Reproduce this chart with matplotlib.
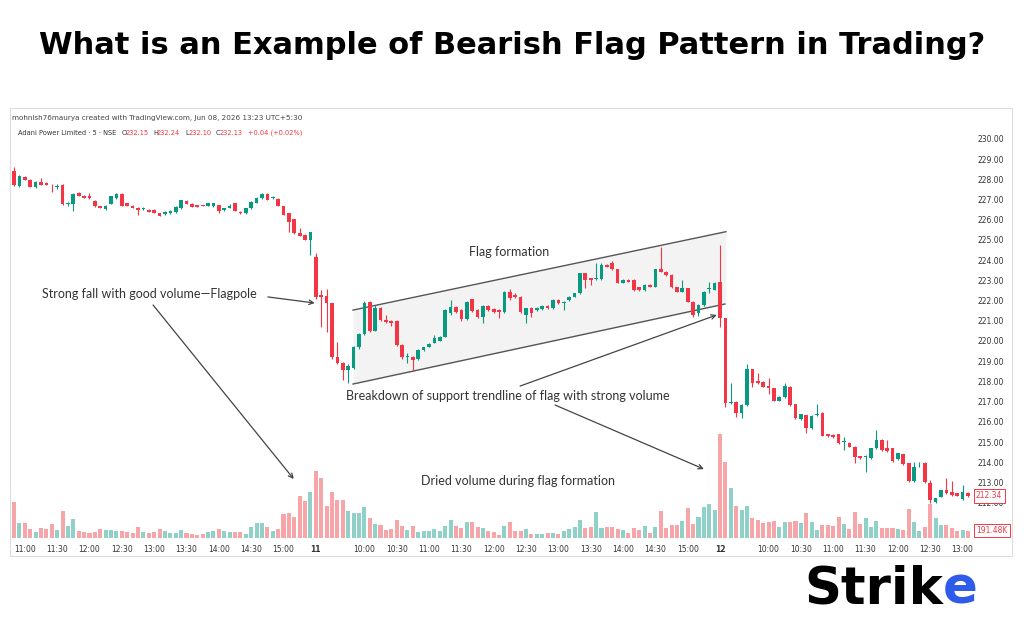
import numpy as np
import pandas as pd
import matplotlib.pyplot as plt
from matplotlib.patches import Rectangle
from matplotlib.transforms import blended_transform_factory

# ---- candle data (5 min bars, three sessions) ----
opens = [
    # day 1 (10:50 - 15:25)
    228.40, 227.67, 228.14, 227.97, 227.61, 227.86, 227.81, 227.74, 227.62, 227.72,
    226.80, 226.78, 227.31, 227.19, 227.19, 226.93, 226.68, 226.52, 226.80, 227.06,
    227.28, 226.82, 226.70, 226.60, 226.55, 226.49, 226.49, 226.32, 226.27, 226.32,
    226.37, 226.57, 226.95, 226.80, 226.73, 226.71, 226.68, 226.67, 226.73, 226.49,
    226.60, 226.83, 226.40, 226.32, 226.57, 226.85, 227.06, 227.28, 227.06, 227.03,
    226.68, 226.32, 226.02, 225.36, 225.25, 225.00,
    # day 2
    224.17, 222.30, 222.23, 221.86, 219.19, 218.89, 218.56, 218.65, 219.69, 220.33,
    221.95, 220.51, 221.62, 221.04, 221.00, 220.99, 219.80, 219.20, 219.20, 219.09,
    219.55, 219.72, 219.92, 220.02, 220.21, 221.37, 221.70, 221.53, 221.09, 222.06,
    221.53, 221.17, 221.73, 221.57, 221.53, 221.45, 222.41, 222.30, 222.20, 221.29,
    221.62, 221.53, 221.58, 221.73, 221.62, 222.03, 221.86, 222.03, 222.20, 222.36,
    223.35, 223.10, 223.05, 223.05, 223.76, 223.85, 223.55, 222.89, 223.02, 223.02,
    222.66, 222.52, 222.77, 222.69, 223.55, 223.43, 223.27, 222.66, 222.44, 222.61,
    221.95, 221.37, 221.78, 222.58, 222.52,
    # day 3
    222.94, 221.12, 216.92, 217.00, 216.45, 216.83, 218.60, 218.00, 217.99, 217.77,
    217.65, 217.05, 217.24, 217.74, 216.88, 216.13, 216.33, 215.68, 216.35, 216.45,
    215.38, 215.35, 215.38, 215.00, 214.97, 214.77, 214.30, 214.25, 214.19, 214.69,
    215.10, 214.70, 214.69, 214.14, 214.39, 213.94, 213.07, 213.94, 213.98, 212.95,
    212.05, 212.29, 212.65, 212.54, 212.46, 212.20, 212.50,
]
highs = [
    228.60, 228.22, 228.17, 228.00, 227.90, 228.09, 227.86, 227.76, 227.76, 227.76,
    226.90, 227.30, 227.39, 227.22, 227.31, 227.00, 226.70, 226.73, 227.20, 227.31,
    227.31, 226.85, 226.73, 226.62, 226.65, 226.52, 226.52, 226.35, 226.42, 226.47,
    226.68, 227.00, 226.98, 226.83, 226.75, 226.73, 226.85, 226.85, 226.75, 226.60,
    226.80, 226.85, 226.42, 226.60, 226.92, 227.12, 227.31, 227.31, 227.16, 227.06,
    226.70, 226.35, 226.05, 225.58, 225.28, 225.41,
    224.34, 222.50, 222.56, 221.90, 219.97, 218.95, 218.85, 219.75, 220.40, 222.00,
    222.00, 221.78, 221.70, 221.29, 221.05, 221.05, 219.85, 219.39, 219.25, 219.58,
    219.72, 219.90, 220.30, 220.25, 221.56, 222.03, 221.75, 221.57, 222.00, 222.10,
    221.57, 221.78, 221.78, 221.62, 221.57, 222.45, 222.56, 222.40, 222.25, 221.65,
    221.66, 221.66, 221.76, 221.76, 222.06, 222.06, 221.98, 222.23, 222.40, 223.38,
    223.38, 223.13, 223.85, 223.85, 223.80, 223.98, 223.58, 223.05, 223.05, 223.05,
    222.69, 222.80, 222.80, 223.58, 224.67, 223.46, 223.30, 222.69, 223.02, 222.64,
    221.98, 221.81, 222.47, 222.90, 222.94,
    224.75, 221.15, 217.90, 217.05, 216.86, 218.85, 218.63, 218.40, 218.02, 218.15,
    217.68, 217.27, 217.90, 217.77, 216.90, 216.41, 216.36, 216.32, 216.86, 216.48,
    215.41, 215.38, 215.41, 215.26, 215.00, 214.80, 214.33, 214.35, 214.72, 215.60,
    215.13, 215.10, 214.72, 214.47, 214.42, 213.97, 214.00, 214.02, 214.01, 213.10,
    212.25, 212.65, 213.20, 213.05, 212.50, 212.87, 212.55,
]
lows = [
    227.65, 227.64, 227.95, 227.62, 227.58, 227.70, 227.70, 227.39, 227.52, 226.75,
    226.70, 226.44, 227.17, 227.08, 227.03, 226.65, 226.57, 226.50, 226.78, 227.03,
    226.68, 226.68, 226.57, 226.24, 226.50, 226.38, 226.33, 226.19, 226.25, 226.30,
    226.35, 226.55, 226.78, 226.63, 226.63, 226.67, 226.66, 226.65, 226.35, 226.45,
    226.58, 226.42, 226.30, 226.30, 226.55, 226.83, 227.04, 226.96, 227.03, 226.68,
    226.22, 225.41, 225.30, 225.19, 224.98, 224.26,
    222.10, 220.71, 220.46, 219.10, 218.85, 218.07, 217.90, 218.60, 219.60, 220.30,
    220.45, 220.48, 221.00, 220.87, 220.74, 219.75, 219.10, 218.89, 218.50, 219.05,
    219.50, 219.68, 219.88, 219.98, 220.18, 221.30, 221.40, 220.99, 221.05, 221.45,
    221.12, 220.87, 221.50, 221.40, 221.12, 221.40, 222.05, 222.15, 221.40, 220.87,
    221.17, 221.50, 221.55, 221.58, 221.58, 221.83, 221.53, 222.00, 222.17, 222.33,
    222.61, 222.77, 223.00, 223.00, 223.64, 223.52, 222.86, 222.86, 222.90, 222.49,
    222.49, 222.49, 222.66, 222.66, 223.40, 223.24, 222.63, 222.41, 222.41, 221.92,
    221.20, 221.25, 221.75, 222.40, 222.50,
    220.71, 216.75, 216.88, 216.25, 216.17, 216.80, 217.74, 217.88, 217.72, 217.40,
    217.02, 217.02, 217.20, 216.80, 216.14, 216.10, 215.43, 215.65, 216.30, 215.28,
    215.27, 215.20, 214.90, 214.60, 214.74, 213.94, 214.16, 213.53, 214.16, 214.66,
    214.57, 214.52, 214.03, 214.10, 213.86, 213.00, 213.04, 213.78, 212.97, 211.96,
    211.96, 212.26, 212.43, 212.35, 212.31, 212.15, 212.30,
]
closes = [
    227.70, 228.17, 227.97, 227.64, 227.89, 227.72, 227.72, 227.70, 227.66, 226.78,
    226.85, 227.28, 227.19, 227.10, 227.06, 226.68, 226.60, 226.70, 227.18, 227.28,
    226.70, 226.70, 226.60, 226.49, 226.58, 226.40, 226.35, 226.21, 226.40, 226.44,
    226.65, 226.98, 226.80, 226.65, 226.65, 226.69, 226.82, 226.82, 226.44, 226.57,
    226.70, 226.44, 226.32, 226.57, 226.90, 227.10, 227.28, 226.98, 227.14, 226.70,
    226.24, 225.91, 225.33, 225.21, 225.00, 225.38,
    222.19, 222.20, 221.86, 219.19, 218.89, 218.56, 218.76, 219.69, 220.33, 221.86,
    220.51, 221.62, 221.04, 220.96, 220.90, 219.80, 219.19, 219.25, 219.05, 219.55,
    219.69, 219.85, 220.13, 220.21, 221.53, 221.70, 221.45, 221.07, 221.95, 221.50,
    221.17, 221.73, 221.53, 221.45, 221.45, 222.41, 222.11, 222.20, 221.45, 221.62,
    221.37, 221.62, 221.73, 221.62, 222.03, 221.86, 221.95, 222.20, 222.36, 223.35,
    223.02, 223.02, 223.10, 223.76, 223.68, 223.55, 222.89, 223.02, 222.94, 222.52,
    222.52, 222.77, 222.69, 223.55, 223.43, 223.27, 222.66, 222.44, 222.61, 221.95,
    221.29, 221.78, 222.44, 222.63, 222.86,
    221.12, 216.92, 216.99, 216.45, 216.83, 218.60, 217.94, 217.90, 217.74, 217.65,
    217.05, 217.24, 217.77, 216.83, 216.17, 216.38, 215.68, 216.29, 216.40, 215.31,
    215.30, 215.23, 214.93, 215.04, 214.77, 214.24, 214.19, 214.28, 214.69, 215.10,
    214.60, 214.55, 214.06, 214.44, 213.89, 213.09, 213.78, 213.97, 213.00, 212.13,
    212.22, 212.62, 212.46, 212.38, 212.34, 212.54, 212.34,
]
# volume in thousands
volumes = [
    954, 390, 390, 242, 148, 260, 234, 364, 208, 720, 304, 494, 174, 156, 130, 156,
    242, 208, 208, 190, 174, 156, 130, 278, 156, 138, 156, 242, 190, 122, 122, 216,
    130, 104, 86, 104, 148, 190, 234, 174, 156, 156, 156, 112, 286, 390, 390, 286,
    190, 242, 624, 668, 554, 1100, 980, 1214,
    1760, 1578, 850, 1214, 996, 996, 720, 650, 650, 814, 520, 372, 330, 208, 234,
    476, 312, 216, 312, 156, 174, 190, 234, 174, 304, 460, 320, 260, 408, 416, 286,
    260, 174, 148, 86, 320, 408, 190, 174, 242, 112, 104, 104, 122, 130, 104, 190,
    242, 278, 476, 260, 294, 676, 260, 286, 286, 242, 200, 130, 260, 216, 304, 130,
    294, 710, 260, 346, 346, 434, 780, 364, 564, 824, 884, 736,
    2730, 1994, 1300, 840, 736, 850, 538, 476, 398, 408, 434, 278, 408, 416, 450,
    382, 668, 416, 216, 346, 330, 304, 554, 364, 242, 694, 364, 520, 278, 434, 260,
    260, 260, 242, 216, 762, 416, 190, 278, 884, 520, 346, 330, 260, 190, 216, 191.48,
]
session_days = ['2026-06-10', '2026-06-11', '2026-06-12']
session_starts = ['10:50', '09:15', '09:15']
session_bars = [56, 75, 47]
price_ticks = list(range(212, 231))

# flag channel (bar index, price)
flag_upper = [(62.9, 221.53), (132.1, 225.41)]
flag_lower = [(62.9, 217.87), (131.9, 221.83)]

o = np.array(opens); h = np.array(highs); l = np.array(lows); c = np.array(closes)
vol = np.array(volumes)
x = np.arange(len(o))
up = c >= o

times = pd.DatetimeIndex(np.concatenate([
    pd.date_range(f'{d} {s}', periods=n, freq='5min')
    for d, s, n in zip(session_days, session_starts, session_bars)]))

GREEN, RED = '#089981', '#f23645'
VGREEN, VRED = '#8fd1c8', '#f6a6a8'
TXT = '#333333'

W, H = 1024, 640
def fx(px): return px / W
def fy(py): return 1 - py / H

fig = plt.figure(figsize=(10.24, 6.4), dpi=100)
fig.patch.set_facecolor('white')

ax = fig.add_axes([fx(10), fy(538), fx(972) - fx(10), fy(125) - fy(538)])
ax2 = ax.twinx()
ax.set_zorder(2); ax2.set_zorder(1); ax.patch.set_visible(False)

# volume
ax2.bar(x, vol, width=0.75, color=np.where(up, VGREEN, VRED), linewidth=0)
ax2.set_ylim(0, vol.max() * 413 / 104)
ax2.axis('off')

# flag area
fx0, fx1 = flag_upper[0][0], flag_upper[1][0]
ax.fill_between([fx0, fx1], [flag_lower[0][1], flag_lower[1][1]],
                [flag_upper[0][1], flag_upper[1][1]], color='#f3f3f3', zorder=0, lw=0)
ax.plot(*zip(*flag_upper), color='#555555', lw=1.0, zorder=1)
ax.plot(*zip(*flag_lower), color='#555555', lw=1.0, zorder=1)

# candles
cols = np.where(up, GREEN, RED)
ax.vlines(x, l, h, colors=cols, lw=0.8, zorder=3)
ax.bar(x, np.maximum(np.abs(c - o), 0.04), bottom=np.minimum(o, c), width=0.68,
       color=cols, linewidth=0, zorder=4)

ax.set_xlim(-0.75, 177.75)
ax.set_ylim(210.25, 230.69)

# axes styling
for s in ax.spines.values():
    s.set_visible(False)
ax.yaxis.tick_right()
ax.set_yticks(price_ticks)
ax.set_yticklabels([f'{p:.2f}' for p in price_ticks])
ax.tick_params(axis='y', length=0, pad=4, labelsize=5.5, labelcolor=TXT)

tick_pos, tick_lab = [], []
last_start = 0
for i, t in enumerate(times):
    if i > 0 and t.date() != times[i - 1].date():
        tick_pos.append(i); tick_lab.append(str(t.day))
        last_start = i
    elif t.minute in (0, 30) and (last_start == 0 or i - last_start > 5):
        tick_pos.append(i); tick_lab.append(t.strftime('%H:%M'))
ax.set_xticks(tick_pos)
ax.set_xticklabels(tick_lab)
ax.tick_params(axis='x', length=0, pad=5, labelsize=5.5, labelcolor=TXT)
for lab in ax.get_xticklabels():
    if ':' not in lab.get_text():
        lab.set_fontweight('bold')

# price tags on the scale
tr = blended_transform_factory(ax.transAxes, ax.transData)
ax.text(1.004, c[-1], f'{c[-1]:.2f}', transform=tr, fontsize=5.5, color=RED,
        va='center', ha='left', clip_on=False, zorder=6,
        bbox=dict(boxstyle='square,pad=0.3', fc='white', ec=RED, lw=0.7))
tr2 = blended_transform_factory(ax2.transAxes, ax2.transData)
ax2.text(1.004, vol[-1], f'{vol[-1]:.2f}K', transform=tr2, fontsize=5.5, color=RED,
         va='center', ha='left', clip_on=False, zorder=6,
         bbox=dict(boxstyle='square,pad=0.3', fc='white', ec=RED, lw=0.7))

# annotations
afont = dict(fontsize=9, color=TXT, family='Lato', ha='center', va='center', zorder=7)
ax.text(91.8, 224.41, 'Flag formation', **afont)
ax.text(25.2, 222.33, 'Strong fall with good volume\u2014Flagpole', **afont)
ax.text(91.7, 217.28, 'Breakdown of support trendline of flag with strong volume', **afont)
ax.text(93.5, 213.07, 'Dried volume during flag formation', **afont)

arrows = [
    ((47.1, 222.18), (55.8, 221.88)),
    ((25.8, 221.78), (51.9, 213.17)),
    ((93.9, 217.77), (130.4, 221.29)),
    ((100.4, 216.83), (128.0, 213.66)),
]
for start, end in arrows:
    ax.annotate('', xy=end, xytext=start, zorder=7,
                arrowprops=dict(arrowstyle='->', color='#444444', lw=0.9,
                                shrinkA=0, shrinkB=0, mutation_scale=8))

# header texts
fig.text(fx(12), fy(118), 'mohnish76maurya created with TradingView.com, Jun 08, 2026 13:23 UTC+5:30',
         fontsize=5.2, color='#444444', va='center')
fig.text(fx(18), fy(133), 'Adani Power Limited \u00b7 5 \u00b7 NSE', fontsize=4.8, color=TXT, va='center')
for lx, key, val in [(122, 'O', '232.15'), (153, 'H', '232.24'),
                     (185, 'L', '232.10'), (216, 'C', '232.13')]:
    fig.text(fx(lx), fy(133), key, fontsize=4.8, color=TXT, va='center')
    fig.text(fx(lx + 4), fy(133), val, fontsize=4.8, color=RED, va='center')
fig.text(fx(248), fy(133), '+0.04 (+0.02%)', fontsize=4.8, color=RED, va='center')

fig.text(0.5, fy(45), 'What is an Example of Bearish Flag Pattern in Trading?',
         ha='center', va='center', fontsize=22, fontweight='bold', color='black')

# chart frame
fig.add_artist(Rectangle((fx(10), fy(556)), fx(1012) - fx(10), fy(108) - fy(556),
                         transform=fig.transFigure, fill=False, ec='#dddddd', lw=0.8))

# logo
t1 = fig.text(fx(804), fy(590), 'Strik', fontsize=37, fontweight='bold',
              color='black', va='center', ha='left')
fig.canvas.draw()
bb = t1.get_window_extent()
fig.text(bb.x1 / W, fy(590), 'e', fontsize=37, fontweight='bold',
         color='#2f5bea', va='center', ha='left')

fig.savefig('out.png', dpi=100)
